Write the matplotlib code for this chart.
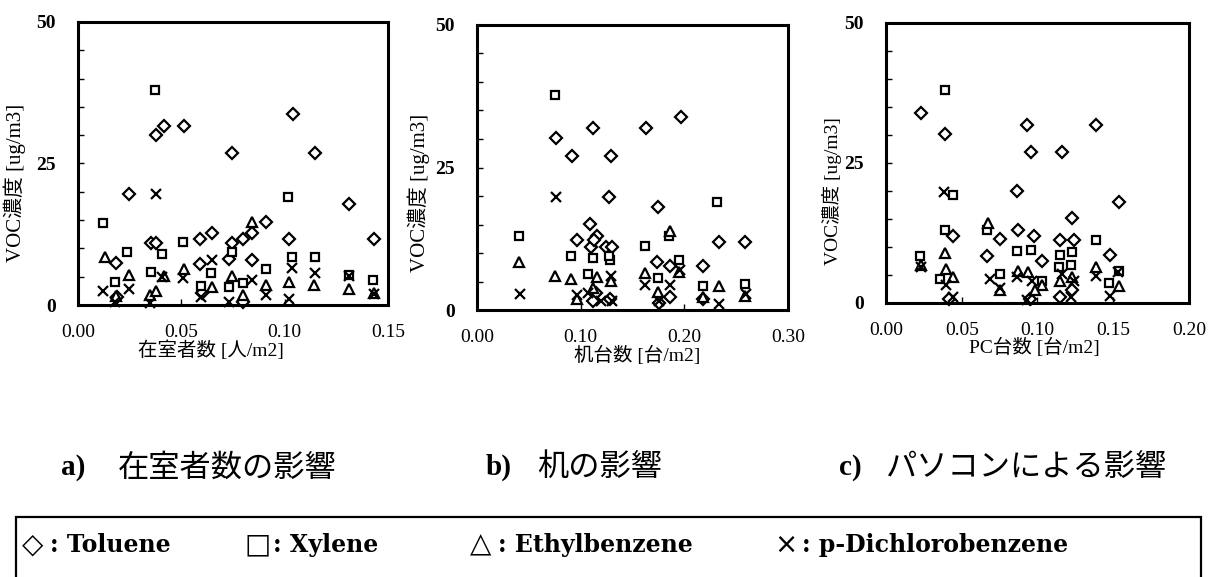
import matplotlib.pyplot as plt
from matplotlib.patches import Rectangle

plt.rcParams["font.family"] = ["Liberation Serif", "Noto Sans CJK JP", "DejaVu Sans"]

# a) occupants per floor area [人/m2]
a_tol_x = [0.0246, 0.0377, 0.0414, 0.0512, 0.0747, 0.1039, 0.1146, 0.131, 0.143, 0.0184,
           0.0353, 0.0377, 0.0588, 0.0648, 0.059, 0.0743, 0.080, 0.084, 0.091, 0.102,
           0.084, 0.073, 0.060, 0.0796, 0.019]
a_tol_y = [19.6, 30.1, 31.7, 31.7, 26.9, 33.8, 26.9, 17.8, 11.7, 7.5,
           10.9, 10.9, 11.7, 12.7, 7.3, 10.9, 11.7, 12.7, 14.7, 11.7,
           8.0, 8.1, 2.1, 0.6, 1.5]
a_xyl_x = [0.0372, 0.0123, 0.0238, 0.018, 0.0353, 0.0407, 0.0509, 0.0594, 0.0645, 0.0747,
           0.073, 0.080, 0.0907, 0.1017, 0.1034, 0.1146, 0.1313, 0.1428]
a_xyl_y = [38.0, 14.4, 9.3, 4.1, 5.9, 9.0, 11.1, 3.4, 5.7, 9.3,
           3.1, 3.8, 6.3, 19.0, 8.4, 8.4, 5.3, 4.4]
a_eth_x = [0.0128, 0.0185, 0.0246, 0.0348, 0.0377, 0.0414, 0.0512, 0.0648, 0.0747, 0.080,
           0.084, 0.091, 0.102, 0.114, 0.1313, 0.143]
a_eth_y = [8.4, 1.6, 5.3, 1.8, 2.4, 5.1, 6.3, 3.1, 5.1, 1.8,
           14.7, 3.5, 4.1, 3.5, 2.9, 2.2]
a_dcb_x = [0.0123, 0.0246, 0.0377, 0.0407, 0.0509, 0.0594, 0.0648, 0.073, 0.084, 0.091,
           0.102, 0.1034, 0.1146, 0.1313, 0.143, 0.018, 0.035]
a_dcb_y = [2.5, 2.8, 19.6, 5.0, 4.7, 1.5, 8.0, 0.6, 4.4, 1.8,
           1.0, 6.5, 5.6, 5.1, 1.9, 0.6, 0.3]

# b) desks per floor area [台/m2]
b_tol_x = [0.0762, 0.0919, 0.1115, 0.129, 0.1275, 0.163, 0.1965, 0.175, 0.109, 0.0968,
           0.1154, 0.1095, 0.113, 0.124, 0.130, 0.233, 0.258, 0.174, 0.186, 0.218,
           0.218, 0.115, 0.1285, 0.176, 0.186, 0.112]
b_tol_y = [30.1, 27.0, 31.9, 27.0, 19.8, 31.9, 33.9, 18.0, 15.1, 12.2,
           12.9, 11.1, 12.2, 11.1, 11.1, 11.9, 11.9, 8.4, 7.8, 7.8,
           1.9, 2.9, 2.0, 1.2, 2.2, 1.5]
b_xyl_x = [0.0755, 0.0402, 0.091, 0.1115, 0.1285, 0.107, 0.162, 0.185, 0.195, 0.175,
           0.2315, 0.2175, 0.258, 0.127]
b_xyl_y = [37.8, 13.0, 9.5, 9.2, 8.7, 6.4, 11.2, 13.0, 8.7, 5.7,
           19.0, 4.3, 4.5, 9.4]
b_eth_x = [0.0402, 0.0755, 0.091, 0.1154, 0.129, 0.162, 0.186, 0.195, 0.175, 0.233,
           0.2175, 0.258, 0.096, 0.112]
b_eth_y = [8.5, 6.0, 5.4, 5.8, 5.1, 6.5, 13.9, 6.7, 3.2, 4.3,
           2.3, 2.5, 2.0, 3.8]
b_dcb_x = [0.041, 0.0762, 0.096, 0.107, 0.129, 0.162, 0.186, 0.196, 0.176, 0.233,
           0.259, 0.120, 0.130]
b_dcb_y = [2.8, 19.8, 2.6, 2.9, 6.0, 4.4, 4.4, 7.0, 1.5, 1.1,
           2.8, 1.5, 1.5]

# c) PCs per floor area [台/m2]
c_tol_x = [0.0232, 0.039, 0.093, 0.0959, 0.116, 0.1387, 0.0863, 0.1539, 0.123, 0.0444,
           0.075, 0.0874, 0.098, 0.115, 0.124, 0.067, 0.103, 0.148, 0.0417, 0.095,
           0.115, 0.123]
c_tol_y = [33.9, 30.1, 31.8, 27.0, 27.0, 31.7, 20.0, 18.0, 15.1, 12.0,
           11.4, 13.0, 11.9, 11.2, 11.2, 8.4, 7.5, 8.6, 0.8, 0.8,
           1.1, 2.3]
c_xyl_x = [0.039, 0.044, 0.0388, 0.0227, 0.0357, 0.0667, 0.0751, 0.0867, 0.0957, 0.103,
           0.115, 0.123, 0.114, 0.122, 0.1387, 0.147, 0.1536]
c_xyl_y = [38.1, 19.2, 13.1, 8.4, 4.3, 13.1, 5.1, 9.3, 9.4, 3.9,
           8.5, 9.1, 6.4, 6.7, 11.2, 3.6, 5.8]
c_eth_x = [0.0673, 0.0388, 0.0395, 0.044, 0.0234, 0.075, 0.0874, 0.094, 0.103, 0.115,
           0.123, 0.1387, 0.1539, 0.0985]
c_eth_y = [14.2, 8.9, 6.1, 4.6, 6.7, 2.3, 5.8, 5.5, 3.2, 4.0,
           4.6, 6.4, 3.0, 2.3]
c_dcb_x = [0.0384, 0.0234, 0.0395, 0.044, 0.0685, 0.075, 0.0865, 0.0963, 0.116, 0.124,
           0.1387, 0.148, 0.1531, 0.122, 0.093]
c_dcb_y = [19.8, 6.5, 3.2, 1.1, 4.3, 2.6, 4.6, 4.0, 5.1, 4.0,
           4.9, 1.2, 5.5, 1.1, 0.5]

panels = [
    dict(pos=[0.0644, 0.4714, 0.2558, 0.4905], xmax=0.15, xstep=0.05,
         xlabel="在室者数 [人/m2]", xlab_x=0.43, ylab=(-0.168, 0.43), ysize=15,
         data=[(a_tol_x, a_tol_y), (a_xyl_x, a_xyl_y), (a_eth_x, a_eth_y), (a_dcb_x, a_dcb_y)]),
    dict(pos=[0.3936, 0.4627, 0.2566, 0.4940], xmax=0.30, xstep=0.10,
         xlabel="机台数 [台/m2]", xlab_x=0.515, ylab=(-0.151, 0.41), ysize=15,
         data=[(b_tol_x, b_tol_y), (b_xyl_x, b_xyl_y), (b_eth_x, b_eth_y), (b_dcb_x, b_dcb_y)]),
    dict(pos=[0.7310, 0.4749, 0.2500, 0.4853], xmax=0.20, xstep=0.05,
         xlabel="PC台数 [台/m2]", xlab_x=0.49, ylab=(-0.145, 0.40), ysize=14,
         data=[(c_tol_x, c_tol_y), (c_xyl_x, c_xyl_y), (c_eth_x, c_eth_y), (c_dcb_x, c_dcb_y)]),
]

markers = [("D", 6.0), ("s", 6.0), ("^", 7.0), ("x", 7.5)]

fig = plt.figure(figsize=(12.12, 5.77), dpi=100)

for p in panels:
    ax = fig.add_axes(p["pos"])
    for (xs, ys), (m, ms) in zip(p["data"], markers):
        ax.plot(xs, ys, ls="none", marker=m, ms=ms, mfc="white", mec="black",
                mew=1.6, clip_on=False)
    ax.set_xlim(0, p["xmax"])
    ax.set_ylim(0, 50)
    nx = int(round(p["xmax"] / p["xstep"]))
    xt = [i * p["xstep"] for i in range(nx + 1)]
    ax.set_xticks(xt)
    ax.set_xticklabels([f"{v:.2f}" for v in xt])
    ax.set_yticks(range(0, 51, 5))
    ax.set_yticklabels([str(v) if v in (0, 25, 50) else "" for v in range(0, 51, 5)])
    ax.tick_params(direction="in", length=4, width=1, labelsize=14,
                   top=False, right=False)
    ax.tick_params(axis="x", pad=14)
    ax.tick_params(axis="y", pad=16)
    for lab in ax.get_yticklabels():
        lab.set_fontweight("bold")
    for s in ax.spines.values():
        s.set_linewidth(2.2)
    ax.set_xlabel(p["xlabel"], fontsize=14)
    ax.xaxis.set_label_coords(p["xlab_x"], -0.125)
    ax.set_ylabel("VOC濃度 [ug/m3]", fontsize=p["ysize"])
    ax.yaxis.set_label_coords(*p["ylab"])

# sub-figure captions
captions = [(0.050, 0.097, "a)", "在室者数の影響"), (0.401, 0.443, "b)", "机の影響"),
            (0.692, 0.730, "c)", "パソコンによる影響")]
for x0, x1, tag, txt in captions:
    fig.text(x0, 0.19, tag, fontsize=21, fontweight="bold", va="center")
    fig.text(x1, 0.19, txt, fontsize=22.5, va="center",
             family=["Noto Sans CJK JP", "DejaVu Sans"])

# marker key box
fig.add_artist(Rectangle((0.013, -0.02), 0.978, 0.124, transform=fig.transFigure,
                         fill=False, lw=1.6, ec="black"))
keys = [(0.018, "◇", "Toluene"), (0.202, "□", "Xylene"),
        (0.388, "△", "Ethylbenzene"), (0.639, "×", "p-Dichlorobenzene")]
for x, sym, name in keys:
    fig.text(x, 0.056, sym, fontsize=20, va="center", family=["DejaVu Sans"])
    fig.text(x + 0.023, 0.056, ": " + name, fontsize=17, fontweight="bold", va="center",
             family=["DejaVu Serif"])

fig.savefig("out.png", dpi=100)
